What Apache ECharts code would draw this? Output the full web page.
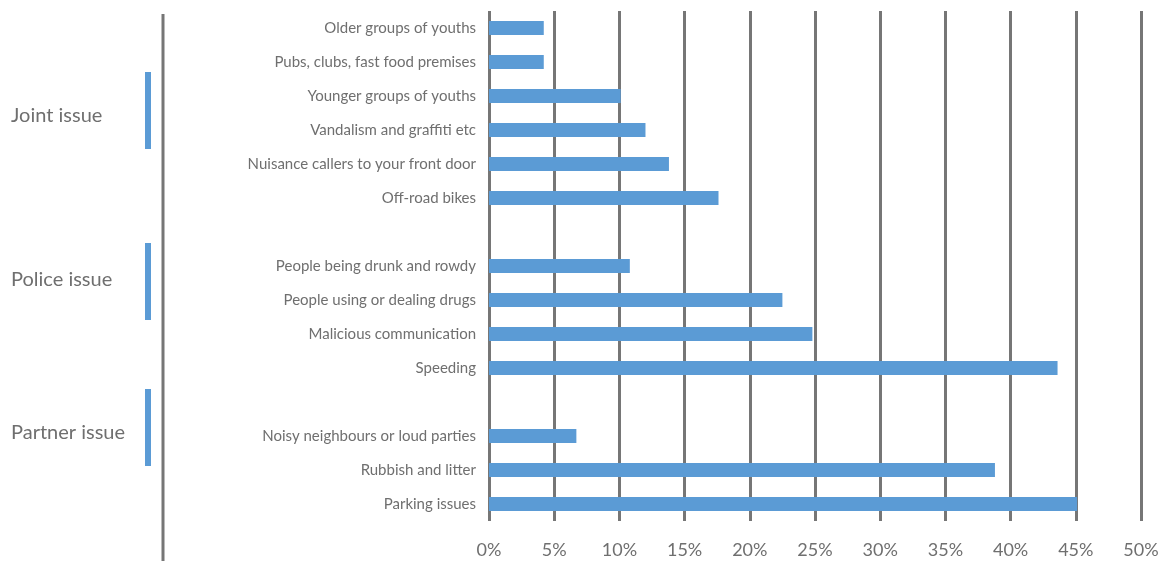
<!DOCTYPE html>
<html>
<head>
<meta charset="utf-8">
<script src="https://cdn.jsdelivr.net/npm/echarts@6/dist/echarts.min.js"></script>
<style>
  html, body { margin: 0; padding: 0; background: #fff; }
  #chart { width: 1163px; height: 561px; }
</style>
</head>
<body>
<div id="chart"></div>
<script>
// top-to-bottom order, '' rows are the gaps between groups
const categories = [
  'Older groups of youths',
  'Pubs, clubs, fast food premises',
  'Younger groups of youths',
  'Vandalism and graffiti etc',
  'Nuisance callers to your front door',
  'Off-road bikes',
  '',
  'People being drunk and rowdy',
  'People using or dealing drugs',
  'Malicious communication',
  'Speeding',
  ' ',
  'Noisy neighbours or loud parties',
  'Rubbish and litter',
  'Parking issues'
]
const values = [4.2, 4.2, 10.1, 12.0, 13.8, 17.6, null, 10.8, 22.5, 24.8, 43.6, null, 6.7, 38.8, 45.1]
const groupLabels = ['Joint issue', 'Police issue', 'Partner issue']
const xTicks = { min: 0, max: 50, interval: 5 }

const textColor = '#6f6f6f'
const gridColor = '#767676'
const barColor = '#5b9bd5'
const font = 'Lato, "Open Sans", sans-serif'

const chart = echarts.init(document.getElementById('chart'))

// decoration on the left: group names with blue markers
const groupPos = [
  { textY: 115, barTop: 72 },
  { textY: 279, barTop: 243 },
  { textY: 432, barTop: 389 }
]
const graphics = [
  { type: 'line', shape: { x1: 163, y1: 14, x2: 163, y2: 561 }, style: { stroke: gridColor, lineWidth: 3 } }
]
groupLabels.forEach((g, i) => {
  graphics.push({
    type: 'text', left: 11, top: groupPos[i].textY - 9,
    style: { text: g, fill: textColor, font: '20px ' + font }
  })
  graphics.push({
    type: 'rect', shape: { x: 145, y: groupPos[i].barTop, width: 6, height: 77 },
    style: { fill: barColor }
  })
})

const option = {
  backgroundColor: '#fff',
  animation: false,
  grid: { left: 489, right: 22, top: 11, height: 510 },
  xAxis: {
    type: 'value',
    min: xTicks.min,
    max: xTicks.max,
    interval: xTicks.interval,
    axisLine: { show: false },
    axisTick: { show: false },
    axisLabel: {
      formatter: '{value}%',
      color: textColor,
      fontSize: 18,
      fontFamily: font,
      margin: 20
    },
    splitLine: { show: true, lineStyle: { color: gridColor, width: 3 } }
  },
  yAxis: {
    type: 'category',
    inverse: true,
    data: categories,
    axisLine: { show: false },
    axisTick: { show: false },
    axisLabel: {
      color: textColor,
      fontSize: 15,
      fontFamily: font,
      margin: 13
    }
  },
  series: [
    {
      type: 'bar',
      data: values,
      barWidth: 14,
      itemStyle: { color: barColor }
    }
  ],
  graphic: graphics
}

chart.setOption(option)
window.addEventListener('resize', () => chart.resize())
</script>
</body>
</html>
